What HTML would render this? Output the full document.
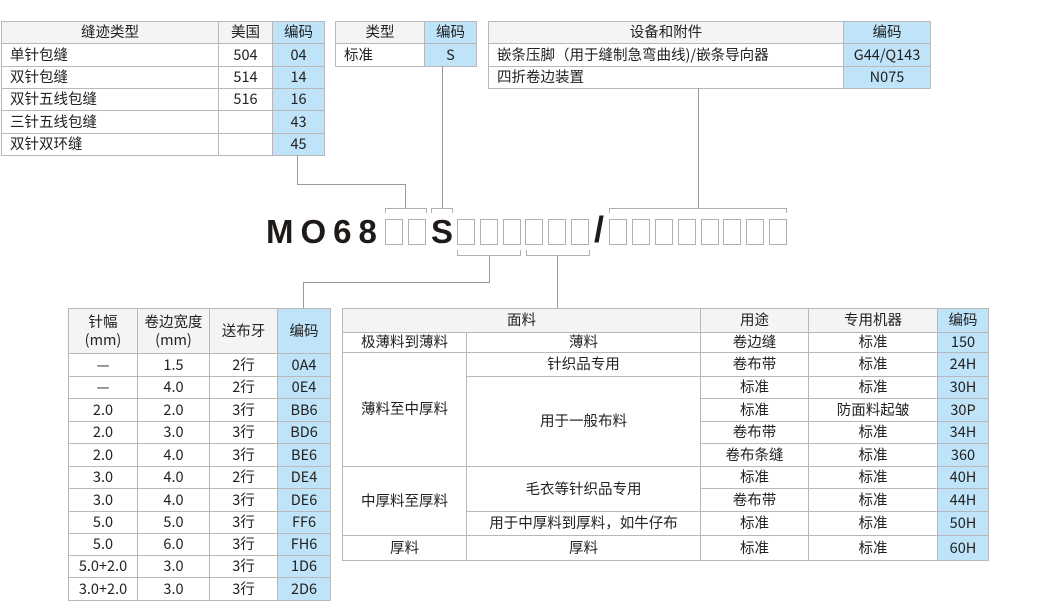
<!DOCTYPE html>
<html><head><meta charset="utf-8"><style>
*{margin:0;padding:0;box-sizing:border-box}
body{width:1060px;height:612px;background:#fff;position:relative;overflow:hidden;font-family:"Liberation Sans","Noto Sans CJK SC",sans-serif;color:#222;font-size:14px}
table{position:absolute;border-collapse:collapse;table-layout:fixed}
td{border:1px solid #b8b8b8;text-align:center;padding:0;line-height:1;white-space:nowrap;font-family:"Noto Sans CJK SC","Liberation Sans",sans-serif;font-size:14.5px}
.h td{background:#f4f4f4}
td.c{background:#bfe3f8}
td.l{text-align:left;padding-left:8px}
svg{position:absolute;left:0;top:0}
.code{position:absolute;font-family:"Liberation Sans","Noto Sans CJK SC",sans-serif;font-weight:bold;color:#1f1a17;font-size:33px;line-height:1}
</style></head><body>

<table style="left:1px;top:21px;width:323px">
<colgroup><col style="width:217px"><col style="width:54px"><col style="width:52px"></colgroup>
<tr class="h" style="height:22px"><td>缝迹类型</td><td>美国</td><td class="c">编码</td></tr>
<tr style="height:23px"><td class="l">单针包缝</td><td>504</td><td class="c">04</td></tr>
<tr style="height:22px"><td class="l">双针包缝</td><td>514</td><td class="c">14</td></tr>
<tr style="height:22px"><td class="l">双针五线包缝</td><td>516</td><td class="c">16</td></tr>
<tr style="height:23px"><td class="l">三针五线包缝</td><td></td><td class="c">43</td></tr>
<tr style="height:22px"><td class="l">双针双环缝</td><td></td><td class="c">45</td></tr>
</table>

<table style="left:335px;top:21px;width:141px">
<colgroup><col style="width:89px"><col style="width:52px"></colgroup>
<tr class="h" style="height:22px"><td>类型</td><td class="c">编码</td></tr>
<tr style="height:23px"><td class="l">标准</td><td class="c">S</td></tr>
</table>

<table style="left:488px;top:21px;width:442px">
<colgroup><col style="width:355px"><col style="width:87px"></colgroup>
<tr class="h" style="height:22px"><td>设备和附件</td><td class="c">编码</td></tr>
<tr style="height:23px"><td class="l">嵌条压脚（用于缝制急弯曲线)/嵌条导向器</td><td class="c">G44/Q143</td></tr>
<tr style="height:22px"><td class="l">四折卷边装置</td><td class="c">N075</td></tr>
</table>

<table style="left:68px;top:308px;width:262px">
<colgroup><col style="width:69px"><col style="width:72px"><col style="width:68px"><col style="width:53px"></colgroup>
<tr class="h" style="height:45px"><td style="line-height:1.25">针幅<br>(mm)</td><td style="line-height:1.25">卷边宽度<br>(mm)</td><td>送布牙</td><td class="c">编码</td></tr>
<tr style="height:23px"><td>—</td><td>1.5</td><td>2行</td><td class="c">0A4</td></tr>
<tr style="height:22px"><td>—</td><td>4.0</td><td>2行</td><td class="c">0E4</td></tr>
<tr style="height:23px"><td>2.0</td><td>2.0</td><td>3行</td><td class="c">BB6</td></tr>
<tr style="height:22px"><td>2.0</td><td>3.0</td><td>3行</td><td class="c">BD6</td></tr>
<tr style="height:23px"><td>2.0</td><td>4.0</td><td>3行</td><td class="c">BE6</td></tr>
<tr style="height:22px"><td>3.0</td><td>4.0</td><td>2行</td><td class="c">DE4</td></tr>
<tr style="height:23px"><td>3.0</td><td>4.0</td><td>3行</td><td class="c">DE6</td></tr>
<tr style="height:22px"><td>5.0</td><td>5.0</td><td>3行</td><td class="c">FF6</td></tr>
<tr style="height:22px"><td>5.0</td><td>6.0</td><td>3行</td><td class="c">FH6</td></tr>
<tr style="height:22px"><td>5.0+2.0</td><td>3.0</td><td>3行</td><td class="c">1D6</td></tr>
<tr style="height:23px"><td>3.0+2.0</td><td>3.0</td><td>3行</td><td class="c">2D6</td></tr>
</table>

<table style="left:342px;top:308px;width:646px">
<colgroup><col style="width:124px"><col style="width:234px"><col style="width:108px"><col style="width:129px"><col style="width:51px"></colgroup>
<tr class="h" style="height:24px"><td colspan="2">面料</td><td>用途</td><td>专用机器</td><td class="c">编码</td></tr>
<tr style="height:20px"><td>极薄料到薄料</td><td>薄料</td><td>卷边缝</td><td>标准</td><td class="c">150</td></tr>
<tr style="height:24px"><td rowspan="5">薄料至中厚料</td><td>针织品专用</td><td>卷布带</td><td>标准</td><td class="c">24H</td></tr>
<tr style="height:22px"><td rowspan="4">用于一般布料</td><td>标准</td><td>标准</td><td class="c">30H</td></tr>
<tr style="height:23px"><td>标准</td><td>防面料起皱</td><td class="c">30P</td></tr>
<tr style="height:22px"><td>卷布带</td><td>标准</td><td class="c">34H</td></tr>
<tr style="height:23px"><td>卷布条缝</td><td>标准</td><td class="c">360</td></tr>
<tr style="height:22px"><td rowspan="3">中厚料至厚料</td><td rowspan="2">毛衣等针织品专用</td><td>标准</td><td>标准</td><td class="c">40H</td></tr>
<tr style="height:23px"><td>卷布带</td><td>标准</td><td class="c">44H</td></tr>
<tr style="height:24px"><td>用于中厚料到厚料，如牛仔布</td><td>标准</td><td>标准</td><td class="c">50H</td></tr>
<tr style="height:25px"><td>厚料</td><td>厚料</td><td>标准</td><td>标准</td><td class="c">60H</td></tr>
</table>

<div class="code" style="left:266px;top:215px;letter-spacing:7px">MO68</div>
<div class="code" style="left:431px;top:215px">S</div>
<div class="code" style="left:594px;top:212px;font-size:36px">/</div>

<svg width="1060" height="612" fill="none" stroke="#9a9a9a" stroke-width="1">
<g stroke="#b0b0b0">
<rect x="385.5" y="219.5" width="17" height="25"/>
<rect x="408.5" y="219.5" width="17" height="25"/>
<rect x="457.5" y="219.5" width="17" height="25"/>
<rect x="480.5" y="219.5" width="17" height="25"/>
<rect x="503.5" y="219.5" width="17" height="25"/>
<rect x="525.5" y="219.5" width="17" height="25"/>
<rect x="548.5" y="219.5" width="17" height="25"/>
<rect x="571.5" y="219.5" width="17" height="25"/>
<rect x="609.5" y="219.5" width="17" height="25"/>
<rect x="632.5" y="219.5" width="17" height="25"/>
<rect x="655.5" y="219.5" width="17" height="25"/>
<rect x="678.5" y="219.5" width="17" height="25"/>
<rect x="701.5" y="219.5" width="17" height="25"/>
<rect x="723.5" y="219.5" width="17" height="25"/>
<rect x="746.5" y="219.5" width="17" height="25"/>
<rect x="769.5" y="219.5" width="17" height="25"/>
<path d="M385.5 213V208.5H426.5V213"/>
<path d="M431.5 213V208.5H452.5V213"/>
<path d="M609.5 213V208.5H786.5V213"/>
<path d="M457.5 250V255.5H520.5V250"/>
<path d="M526.5 250V255.5H589.5V250"/>
</g>
<path d="M297.5 155V184.5H405.5V208"/>
<path d="M442.5 66V208"/>
<path d="M698.5 88V208"/>
<path d="M489.5 256V282.5H303.5V308"/>
<path d="M557.5 256V308"/>
</svg>
</body></html>
